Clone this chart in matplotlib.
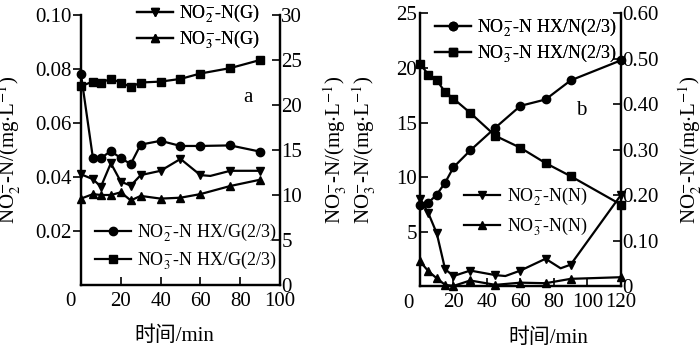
import matplotlib
matplotlib.use("Agg")
import matplotlib.pyplot as plt
from matplotlib.lines import Line2D

plt.rcParams["font.family"] = ["Liberation Serif", "Noto Sans CJK SC"]
plt.rcParams["mathtext.fontset"] = "stix"

# panel a (G)
t_a = [0, 6, 10, 15, 20, 25, 30, 40, 50, 60, 75, 90]
no2_hx_g = [0.078, 0.047, 0.047, 0.0496, 0.047, 0.0448, 0.052, 0.0534, 0.0515, 0.0515, 0.0517, 0.0494]
no3_hx_g = [22.1, 22.6, 22.5, 22.9, 22.5, 22.0, 22.5, 22.6, 22.9, 23.5, 24.1, 25.0]
no3_g = [9.6, 10.1, 10.0, 10.0, 10.3, 9.4, 9.9, 9.6, 9.7, 10.1, 11.0, 11.7]
t_a2 = [0, 6, 10, 15, 20, 25, 30, 40, 50, 60, 65, 75, 90]
no2_g = [0.041, 0.0392, 0.0364, 0.0451, 0.0383, 0.0368, 0.0407, 0.0423, 0.0467, 0.0407, 0.0404, 0.0423, 0.0423]

# panel b (N)
t_b = [0, 5, 10, 15, 20, 30, 45, 60, 75, 90, 120]
no3_hx_n = [20.4, 19.4, 18.9, 17.8, 17.2, 15.9, 13.8, 12.7, 11.3, 10.1, 7.5]
no2_hx_n = [0.178, 0.184, 0.202, 0.228, 0.262, 0.299, 0.349, 0.397, 0.411, 0.453, 0.497]
no3_n = [2.3, 1.4, 0.75, 0.15, 0.05, 0.55, 0.15, 0.35, 0.3, 0.7, 0.85]
t_b2 = [0, 5, 10, 15, 20, 30, 45, 51, 60, 75, 84, 90, 120]
no2_n = [0.193, 0.161, 0.117, 0.038, 0.023, 0.035, 0.025, 0.023, 0.035, 0.061, 0.040, 0.048, 0.201]

lbl_no2 = r"NO$_2^{-}$"
lbl_no3 = r"NO$_3^{-}$"
unit = r"-N/(mg$\cdot$L$^{-1}$)"
FS = 15
LFS = 13
kw = dict(color="black", linewidth=1.6, markersize=6, clip_on=False)
legkw = dict(frameon=False, fontsize=LFS, borderpad=0, borderaxespad=0,
             handlelength=2.0, handletextpad=0.35)

fig = plt.figure(figsize=(7, 3.45), dpi=100)

# ---------- panel a ----------
ax = fig.add_axes([0.1157, 0.1739, 0.2843, 0.7826])
ax2 = ax.twinx()
ax.plot(t_a, no2_hx_g, marker="o", **kw)
ax.plot(t_a2, no2_g, marker="v", markevery=[i for i in range(len(t_a2)) if i != 10], **kw)
ax2.plot(t_a, no3_hx_g, marker="s", **kw)
ax2.plot(t_a, no3_g, marker="^", **kw)
ax.set_xlim(0, 100)
ax.set_ylim(0, 0.10)
ax2.set_ylim(0, 30)
ax.set_xticks([20, 40, 60, 80, 100])
ax.set_yticks([0.02, 0.04, 0.06, 0.08, 0.10])
ax.set_yticklabels(["0.02", "0.04", "0.06", "0.08", "0.10"])
ax2.set_yticks([0, 5, 10, 15, 20, 25, 30])
ax.tick_params(axis="x", direction="in", length=6, width=1.2, labelsize=FS, pad=5)
ax.tick_params(axis="y", direction="out", length=6, width=1.2, labelsize=FS, pad=1)
ax2.tick_params(axis="y", direction="in", length=6, width=1.2, labelsize=FS, pad=1)
ax.text(-0.055, -0.026, "0", transform=ax.transAxes, ha="center", va="top", fontsize=FS)
for a in (ax, ax2):
    for s in a.spines.values():
        s.set_linewidth(1.6)
ax2.spines["top"].set_visible(False)
ax.spines["top"].set_visible(False)
ax.set_ylabel(lbl_no2 + unit, fontsize=FS)
ax.yaxis.set_label_coords(-0.29, 0.5)
ax2.set_ylabel(lbl_no3 + unit, fontsize=FS)
ax2.yaxis.set_label_coords(1.21, 0.5)
ax.set_xlabel("时间/min", fontsize=FS)
ax.xaxis.set_label_coords(0.47, -0.155)
ax.text(0.84, 0.695, "a", transform=ax.transAxes, fontsize=FS, ha="center", va="center")

h_v = Line2D([], [], color="black", marker="v", linewidth=1.6, markersize=6)
h_up = Line2D([], [], color="black", marker="^", linewidth=1.6, markersize=6)
h_o = Line2D([], [], color="black", marker="o", linewidth=1.6, markersize=6)
h_s = Line2D([], [], color="black", marker="s", linewidth=1.6, markersize=6)

leg = ax.legend([h_v, h_up], [lbl_no2 + "-N(G)", lbl_no3 + "-N(G)"], loc="upper left",
                bbox_to_anchor=(0.28, 1.045), labelspacing=0.15, **legkw)
ax.add_artist(leg)
ax2.legend([h_o, h_s], [lbl_no2 + "-N HX/G(2/3)", lbl_no3 + "-N HX/G(2/3)"], loc="upper left",
           bbox_to_anchor=(0.07, 0.235), labelspacing=0.3, **legkw)

# ---------- panel b ----------
bx = fig.add_axes([0.6, 0.1696, 0.287, 0.7913])
bx2 = bx.twinx()
bx.plot(t_b, no3_hx_n, marker="s", **kw)
bx.plot(t_b, no3_n, marker="^", **kw)
bx2.plot(t_b, no2_hx_n, marker="o", **kw)
bx2.plot(t_b2, no2_n, marker="v", markevery=[i for i in range(len(t_b2)) if i not in (7, 10)], **kw)
bx.set_xlim(0, 120)
bx.set_ylim(0, 25)
bx2.set_ylim(0, 0.60)
bx.set_xticks([20, 40, 60, 80, 100, 120])
bx.set_yticks([5, 10, 15, 20, 25])
bx2.set_yticks([0, 0.1, 0.2, 0.3, 0.4, 0.5, 0.6])
bx2.set_yticklabels(["0", "0.10", "0.20", "0.30", "0.40", "0.50", "0.60"])
bx.tick_params(axis="x", direction="in", length=6, width=1.2, labelsize=FS, pad=5)
bx.tick_params(axis="y", direction="in", length=6, width=1.2, labelsize=FS, pad=2)
bx2.tick_params(axis="y", direction="in", length=6, width=1.2, labelsize=FS, pad=1)
bx.text(-0.06, -0.026, "0", transform=bx.transAxes, ha="center", va="top", fontsize=FS)
for a in (bx, bx2):
    for s in a.spines.values():
        s.set_linewidth(1.6)
bx.spines["top"].set_visible(False)
bx2.spines["top"].set_visible(False)
bx.set_ylabel(lbl_no3 + unit, fontsize=FS)
bx.yaxis.set_label_coords(-0.21, 0.5)
bx2.set_ylabel(lbl_no2 + unit, fontsize=FS)
bx2.yaxis.set_label_coords(1.28, 0.5)
bx.set_xlabel("时间/min", fontsize=FS)
bx.xaxis.set_label_coords(0.64, -0.155)
bx.text(0.8, 0.645, "b", transform=bx.transAxes, fontsize=FS, ha="center", va="center")

leg = bx.legend([h_o, h_s], [lbl_no2 + "-N HX/N(2/3)", lbl_no3 + "-N HX/N(2/3)"], loc="upper left",
                bbox_to_anchor=(0.075, 0.99), labelspacing=0.2, **legkw)
bx.add_artist(leg)
bx2.legend([h_v, h_up], [lbl_no2 + "-N(N)", lbl_no3 + "-N(N)"], loc="upper left",
           bbox_to_anchor=(0.22, 0.37), labelspacing=0.4, **legkw)

fig.savefig("out.png", dpi=100)
